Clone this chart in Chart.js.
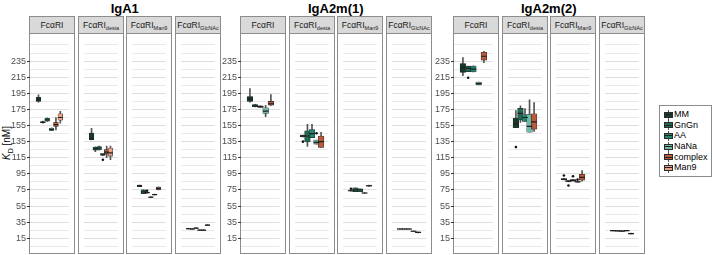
<!DOCTYPE html>
<html lang="en">
<head>
<meta charset="UTF-8">
<title>KD boxplots</title>
<script src="https://cdn.jsdelivr.net/npm/chart.js@4"></script>
<style>
    * { margin: 0; padding: 0; box-sizing: border-box; }
    body {
        width: 713px; height: 255px; background: #fff; position: relative; overflow: hidden;
        font-family: "Liberation Sans", Arial, sans-serif;
    }
    .title { position: absolute; top: 1px; height: 15px; font-weight: bold; font-size: 13px; text-align: center; color: #000; }
    .strip {
        position: absolute; top: 16px; height: 18px; background: #d9d9d9; border: 1px solid #8c8c8c;
        font-size: 8.5px; color: #1a1a1a; text-align: center; line-height: 16px; white-space: nowrap;
    }
    .strip sub { font-size: 5.5px; vertical-align: -2px; line-height: 0; }
    .panel { position: absolute; top: 33px; height: 221px; border: 1px solid #8c8c8c; }
    canvas { position: absolute; }
    .ylab {
        position: absolute; left: 7px; top: 143px; transform: translate(-50%, -50%) rotate(-90deg);
        font-size: 10px; color: #000; white-space: nowrap;
    }
    .ylab sub { font-size: 7px; }
    .legend {
        position: absolute; left: 659px; top: 105px; width: 53px; height: 72px;
        border: 1px solid #8c8c8c; padding: 3px 0 0 4px;
    }
    .item { height: 10.7px; line-height: 10.7px; font-size: 9px; color: #000; position: relative; padding-left: 10px; }
    .key { position: absolute; left: 0; top: 0.5px; width: 9px; height: 10px; }
    .key .wh { position: absolute; left: 4px; top: 0; width: 1px; height: 10px; background: #555; }
    .key .bx { position: absolute; left: 0; top: 2px; width: 9px; height: 6px; border: 0.6px solid #2b2b2b; }
    .key .md { position: absolute; left: 0; top: 4.5px; width: 9px; height: 1px; background: #222; }
</style>
</head>
<body>

<div class="ylab"><i>K</i><sub>D</sub> [nM]</div>
<div class="legend" id="legend"></div>

<script>
    // glycoforms (fill order) and facets
    const glycoforms = ['MM', 'GnGn', 'AA', 'NaNa', 'complex', 'Man9'];
    const antibodies = ['IgA1', 'IgA2m(1)', 'IgA2m(2)'];
    const receptorSubs = ['', 'desia', 'Man9', 'GlcNAc'];
    const yTicks = [15, 35, 55, 75, 95, 115, 135, 155, 175, 195, 215, 235];
    const yGridExtra = [5, 25, 45, 65, 85, 105, 125, 145, 165, 185, 205, 225, 245, 255];

    // box stats per glycoform: [min, q1, median, q3, max], null = not measured
    const iga1_FcaRI = [[184, 185, 187, 190, 193], [158, 158.5, 159, 160, 160.5], [160, 160.5, 162, 164, 164.5],
        [148.5, 148.8, 150, 151.5, 152], [149.5, 154, 156, 159, 165], [158, 161.5, 165, 169.5, 172.5]];
    const iga1_desia = [[137, 137.5, 139, 145.5, 151.5], [122.5, 124.5, 126, 128, 128.5], [124.5, 125, 127, 129, 129.5],
        [118, 118, 119, 120.5, 120.5], [115, 120, 122, 125, 129.5], [112.5, 117, 121, 127, 129.5]];
    const iga1_Man9 = [[79, 79, 80, 81, 81], [70.5, 70.5, 72.5, 75, 75], [71, 71.3, 71.7, 72, 72],
        [65.5, 65.8, 66, 66.3, 66.5], [68.7, 69, 69.3, 69.6, 70], [75, 75.5, 77, 78.5, 79]];
    const iga1_GlcNAc = [[26.5, 26.7, 27, 27.3, 27.5], [26, 26.2, 26.5, 26.8, 27], [27, 27.2, 27.5, 27.8, 28],
        [24.5, 24.7, 25, 25.3, 25.5], [24.5, 24.7, 25, 25.3, 25.5], [30.5, 30.8, 31.3, 31.8, 32]];

    const iga2m1_FcaRI = [[184, 185, 188, 191, 201], [178, 178.3, 179.5, 181, 181.2], [177.5, 177.6, 178.5, 179.5, 179.6],
        [166, 170, 173, 177, 180], [180, 180.2, 182, 185, 193.5], null];
    const iga2m1_desia = [[141, 141, 142, 143, 143], [129, 134.5, 142, 148.3, 156.5], [140, 140, 145, 150, 156.5],
        [132, 132, 134, 137, 137], [127.7, 127.7, 135, 142, 146.7], null];
    const iga2m1_Man9 = [[73.5, 73.7, 74, 74.3, 74.5], [73, 73, 75, 77.5, 77.5], [73, 73, 75, 76.5, 76.5],
        [70.8, 71, 71.2, 71.5, 71.6], [79.5, 79.7, 80.2, 80.7, 81], null];
    const iga2m1_GlcNAc = [[26.2, 26.3, 26.5, 26.7, 26.8], [26.2, 26.3, 26.5, 26.7, 26.8], [26.2, 26.3, 26.5, 26.7, 26.8],
        [23.3, 23.5, 23.7, 24, 24.2], [21.8, 22, 22.3, 22.6, 22.8], null];

    const iga2m2_FcaRI = [[217, 221, 227, 232, 239.5], [222, 222, 226, 228.7, 228.7], [221.5, 221.6, 225, 228.8, 229],
        [205.4, 205.5, 207, 209, 209], [233, 236.2, 241, 246, 247], null];
    const iga2m2_desia = [[152.2, 152.2, 157, 164, 173.5], [159, 162, 170, 176.3, 179.4], [160, 160, 165, 168.4, 176],
        [146.6, 146.6, 154, 169, 187], [147.8, 150.6, 159.6, 169.6, 183.5], null];
    const iga2m2_Man9 = [[87.5, 87.7, 88.2, 89, 89.5], [85, 85.2, 86, 86.5, 86.7], [86, 86.2, 87, 87.8, 88],
        [84.5, 84.7, 85.2, 85.7, 86], [86, 87.3, 90.5, 94.4, 99], null];
    const iga2m2_GlcNAc = [[24, 24.2, 24.5, 24.8, 25], [23.8, 24, 24.2, 24.4, 24.6], [23.5, 23.8, 24, 24.3, 24.5],
        [24.2, 24.3, 24.5, 24.7, 24.8], [20.3, 20.5, 20.8, 21.1, 21.3], null];

    // outliers per glycoform
    const iga1_desia_out = [null, null, null, 112.5, null, null];
    const iga1_Man9_out = [null, null, 74, null, null, null];
    const iga2m1_desia_out = [135, null, null, 145.5, null, null];
    const iga2m1_Man9_out = [76.5, null, null, null, null, null];
    const iga2m2_FcaRI_out = [null, 214.3, null, null, null, null];
    const iga2m2_desia_out = [128.2, null, null, null, null, null];
    const iga2m2_Man9_out = [93, 80.5, 92, 87.8, null, null];
    const noOut = [null, null, null, null, null, null];

    const panelStats = [
        [iga1_FcaRI, iga1_desia, iga1_Man9, iga1_GlcNAc],
        [iga2m1_FcaRI, iga2m1_desia, iga2m1_Man9, iga2m1_GlcNAc],
        [iga2m2_FcaRI, iga2m2_desia, iga2m2_Man9, iga2m2_GlcNAc]
    ];
    const panelOutliers = [
        [noOut, iga1_desia_out, iga1_Man9_out, noOut],
        [noOut, iga2m1_desia_out, iga2m1_Man9_out, noOut],
        [iga2m2_FcaRI_out, iga2m2_desia_out, iga2m2_Man9_out, noOut]
    ];

    const palette = ['#163a2b', '#1e6a50', '#22876e', '#6dbba6', '#b95a3b', '#eaa183'];

    // layout
    const groupLeft = [29, 240, 453];
    const panelStep = 48.5;
    const panelW = 46;
    const plotTop = 34, plotH = 219;
    const yMin = 3.17, yMax = 262.2;
    const axisW = 28;

    function addDiv(cls, left, width, html) {
        const d = document.createElement('div');
        d.className = cls;
        d.style.left = left + 'px';
        d.style.width = width + 'px';
        d.innerHTML = html;
        document.body.appendChild(d);
        return d;
    }

    function makePanel(g, p) {
        const stats = panelStats[g][p];
        const outs = panelOutliers[g][p];
        const present = [];
        stats.forEach((s, i) => { if (s) present.push(i); });
        const n = present.length;
        const pad = n * 0.24;
        const slot = (panelW - 2) / (n + 2 * pad);
        const boxW = slot * 0.95;

        const left = Math.round(groupLeft[g] + p * panelStep);
        const sub = receptorSubs[p] ? '<sub>' + receptorSubs[p] + '</sub>' : '';
        addDiv('strip', left, panelW, 'Fc&alpha;RI' + sub);
        addDiv('panel', left, panelW, '');

        const first = p === 0;
        const canvas = document.createElement('canvas');
        const cw = panelW - 2 + (first ? axisW : 0);
        canvas.width = cw; canvas.height = plotH;
        canvas.style.left = (left + 1 - (first ? axisW : 0)) + 'px';
        canvas.style.top = plotTop + 'px';
        canvas.style.width = cw + 'px'; canvas.style.height = plotH + 'px';
        document.body.appendChild(canvas);

        const whiskers = present.map((i, k) => ({x: k, y: [stats[i][0], stats[i][4]]}));
        const boxes = present.map((i, k) => ({x: k, y: [stats[i][1], stats[i][3]]}));
        const medians = present.map((i, k) => ({x: k, y: stats[i][2]}));
        const outliers = [];
        present.forEach((i, k) => { if (outs[i] !== null) outliers.push({x: k, y: outs[i]}); });
        const colors = present.map(i => palette[i]);

        const gridVals = yTicks.concat(yGridExtra).sort((a, b) => a - b);

        new Chart(canvas, {
            type: 'bar',
            data: {
                datasets: [
                    {type: 'line', data: outliers, showLine: false, pointStyle: 'circle', pointRadius: 1.3,
                        pointBackgroundColor: '#111', pointBorderWidth: 0, order: 0},
                    {type: 'line', data: medians, showLine: false, pointStyle: 'line', pointRadius: boxW / 2,
                        pointBorderColor: '#1f1f1f', pointBorderWidth: 1.2, order: 1},
                    {type: 'bar', data: boxes, backgroundColor: colors, borderColor: '#2b2b2b', borderWidth: 0.6,
                        borderSkipped: false, barThickness: boxW, grouped: false, order: 2},
                    {type: 'bar', data: whiskers, backgroundColor: '#555', borderWidth: 0,
                        barThickness: 1, grouped: false, order: 3}
                ]
            },
            options: {
                responsive: false,
                animation: false,
                events: [],
                layout: {padding: 0},
                plugins: {legend: {display: false}, tooltip: {enabled: false}},
                scales: {
                    x: {
                        type: 'linear', display: false, offset: false,
                        min: -0.5 - pad, max: n - 0.5 + pad
                    },
                    y: {
                        type: 'linear', min: yMin, max: yMax,
                        afterBuildTicks: s => { s.ticks = gridVals.map(v => ({value: v})); },
                        afterFit: s => { s.width = first ? axisW : 0; s.paddingTop = 0; s.paddingBottom = 0; },
                        border: {display: false},
                        grid: {
                            color: c => yTicks.includes(c.tick.value) ? '#dedede' : '#e9e9e9',
                            lineWidth: 1,
                            drawTicks: first,
                            tickLength: 3,
                            tickColor: c => yTicks.includes(c.tick.value) ? '#333' : 'rgba(0,0,0,0)'
                        },
                        ticks: {
                            display: first,
                            autoSkip: false,
                            padding: 1,
                            color: '#4d4d4d',
                            font: {family: '"Liberation Sans", Arial, sans-serif', size: 9},
                            callback: v => yTicks.includes(v) ? String(v) : ''
                        }
                    }
                }
            }
        });
    }

    antibodies.forEach((name, g) => {
        addDiv('title', groupLeft[g], panelStep * 3 + panelW, name);
        for (let p = 0; p < 4; p++) makePanel(g, p);
    });

    const legend = document.getElementById('legend');
    glycoforms.forEach((name, i) => {
        const it = document.createElement('div');
        it.className = 'item';
        it.innerHTML = '<span class="key"><span class="wh"></span><span class="bx" style="background:' + palette[i] +
            '"></span><span class="md"></span></span>' + name;
        legend.appendChild(it);
    });
</script>
</body>
</html>
